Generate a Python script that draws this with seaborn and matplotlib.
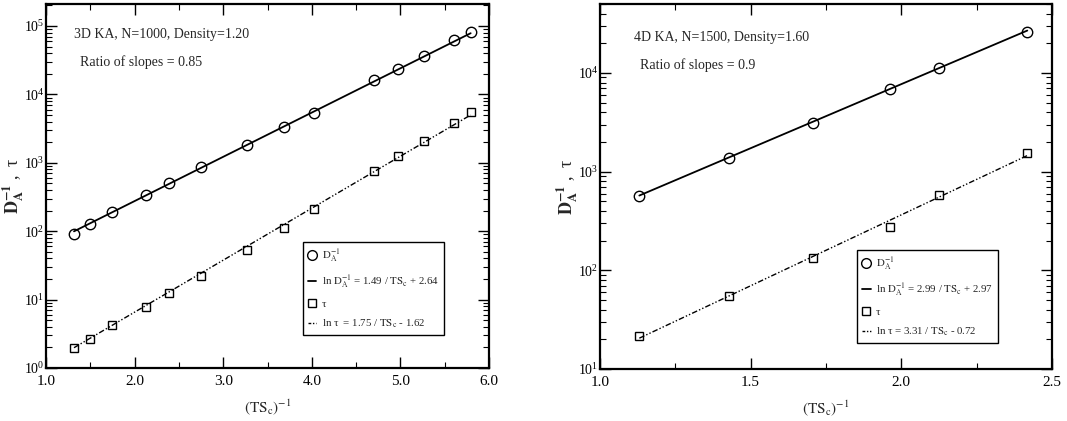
import numpy as np
import pandas as pd
import matplotlib
matplotlib.use("Agg")
import matplotlib.pyplot as plt
import seaborn as sns
from matplotlib.lines import Line2D
from matplotlib.ticker import FormatStrFormatter, MultipleLocator, LogLocator

# ---------------- data ----------------
# 3D KA, N=1000
x3 = [1.316, 1.496, 1.744, 2.124, 2.387, 2.752, 3.267, 3.684, 4.026, 4.699, 4.977, 5.271, 5.609, 5.793]
dinv3 = [90, 126, 194, 336, 510, 857, 1800, 3300, 5420, 16300, 23900, 36300, 61600, 81700]
tau3 = [1.96, 2.66, 4.2, 7.9, 12.4, 21.8, 53.7, 113, 210, 748, 1256, 2061, 3786, 5610]
fitD3 = (1.49, 2.64)
fitT3 = (1.75, -1.62)

# 4D KA, N=1500
x4 = [1.1305, 1.429, 1.708, 1.961, 2.124, 2.418]
dinv4 = [565, 1371, 3131, 6935, 11320, 25800]
tau4 = [21.4, 55.5, 134, 274, 574, 1553]
fitD4 = (2.99, 2.97)
fitT4 = (3.31, -0.72)

sns.set_theme(style="ticks")
plt.rcParams["font.family"] = ["Liberation Serif", "DejaVu Serif"]
plt.rcParams["mathtext.fontset"] = "stix"

fig = plt.figure(figsize=(10.67, 4.21), dpi=100)
W, H = 1067, 421
axL = fig.add_axes([46 / W, 1 - 368 / H, 443 / W, 364 / H])
axR = fig.add_axes([600 / W, 1 - 369 / H, 452 / W, 365 / H])

DASHDOT = (0, (4, 1.5, 1, 1.5, 1, 1.5))


def panel(ax, x, dinv, tau, fitD, fitT, xlim, ylim, xmajor, xminor,
          title, ratio, labD, labT, txy, legxy, ylabx):
    x = np.asarray(x)
    df = pd.DataFrame({"x": x, "dinv": dinv, "tau": tau,
                       "fD": np.exp(fitD[0] * x + fitD[1]),
                       "fT": np.exp(fitT[0] * x + fitT[1])})
    sns.lineplot(data=df, x="x", y="fD", ax=ax, color="black", lw=1.3, legend=False)
    sns.lineplot(data=df, x="x", y="fT", ax=ax, color="black", lw=1.0,
                 linestyle=DASHDOT, legend=False)
    sns.lineplot(data=df, x="x", y="dinv", ax=ax, marker="o", linestyle="none",
                 ms=7.5, mfc="none", mec="black", mew=1.0, legend=False)
    sns.lineplot(data=df, x="x", y="tau", ax=ax, marker="s", linestyle="none",
                 ms=5.8, mfc="none", mec="black", mew=1.0, legend=False)
    ax.set_yscale("log")
    ax.set_xlim(*xlim)
    ax.set_ylim(*ylim)
    ax.xaxis.set_major_locator(MultipleLocator(xmajor))
    ax.xaxis.set_minor_locator(MultipleLocator(xminor))
    ax.xaxis.set_major_formatter(FormatStrFormatter("%.1f"))
    ax.yaxis.set_major_locator(LogLocator(base=10, numticks=10))
    ax.yaxis.set_minor_locator(LogLocator(base=10, subs=np.arange(2, 10), numticks=20))
    ax.tick_params(which="both", direction="in", top=True, right=True, colors="black")
    ax.tick_params(axis="x", labelsize=11, pad=5)
    ax.tick_params(axis="y", labelsize=10, pad=1)
    ax.tick_params(which="major", length=8, width=1.0)
    ax.tick_params(which="minor", length=4, width=0.8)
    for s in ax.spines.values():
        s.set_linewidth(1.6)
        s.set_color("black")
    ax.set_xlabel(r"$\mathrm{(TS_c)^{-1}}$", fontsize=11, labelpad=7)
    ax.set_ylabel(r"$\mathbf{D_A^{-1}}$ ,  τ", fontsize=13)
    ax.yaxis.set_label_coords(ylabx, 0.5)
    ax.text(txy[0], txy[1], title, transform=ax.transAxes, fontsize=10, va="center")
    ax.text(txy[0] + 0.013, txy[1] - 0.075, ratio, transform=ax.transAxes,
            fontsize=10, va="center")
    handles = [
        Line2D([], [], marker="o", linestyle="none", mfc="none", mec="black", ms=7),
        Line2D([], [], color="black", lw=1.3),
        Line2D([], [], marker="s", linestyle="none", mfc="none", mec="black", ms=5.5),
        Line2D([], [], color="black", lw=1.0, linestyle=(0, (2, 1.2, 1, 1.2, 1, 1.2))),
    ]
    labels = [r"$\mathrm{D_A^{-1}}$", labD, "τ", labT]
    leg = ax.legend(handles, labels, loc="upper left", bbox_to_anchor=legxy,
                    fontsize=7.8, frameon=True, fancybox=False, edgecolor="black",
                    handlelength=0.8, handletextpad=0.5, borderpad=0.45,
                    labelspacing=0.85, borderaxespad=0)
    leg.get_frame().set_linewidth(1.0)
    leg.get_frame().set_alpha(1)


panel(axL, x3, dinv3, tau3, fitD3, fitT3, (1.0, 6.0), (1, 2.1e5), 1.0, 0.5,
      "3D KA, N=1000, Density=1.20", "Ratio of slopes = 0.85",
      r"ln $\mathrm{D_A^{-1}}$ = 1.49 / $\mathrm{TS_c}$ + 2.64",
      r"ln τ  = 1.75 / $\mathrm{TS_c}$ - 1.62",
      (0.063, 0.915), (0.58, 0.346), -0.045)

panel(axR, x4, dinv4, tau4, fitD4, fitT4, (1.0, 2.5), (10, 5e4), 0.5, 0.25,
      "4D KA, N=1500, Density=1.60", "Ratio of slopes = 0.9",
      r"ln $\mathrm{D_A^{-1}}$ = 2.99 / $\mathrm{TS_c}$ + 2.97",
      r"ln τ = 3.31 / $\mathrm{TS_c}$ - 0.72",
      (0.075, 0.907), (0.569, 0.326), -0.045)

fig.savefig("out.png", dpi=100)
